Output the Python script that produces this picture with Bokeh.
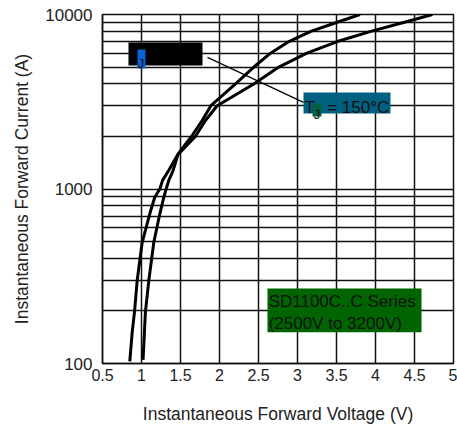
from bokeh.embed import file_html
from bokeh.models import BoxAnnotation, FixedTicker, Label
from bokeh.plotting import figure
from bokeh.resources import INLINE

# Forward characteristic, Tj = 25 degC
vf_25c = [1.02, 1.05, 1.094, 1.158, 1.235, 1.286, 1.31, 1.35, 1.405, 1.47,
          1.64, 1.778, 1.89, 2.205, 2.44, 2.654, 2.89, 3.17, 3.50, 3.80]
if_25c = [105, 197, 300, 495, 721, 897, 980, 1120, 1277, 1590,
          2000, 2470, 3000, 4000, 5000, 6000, 7000, 8000, 9000, 10000]

# Forward characteristic, Tj = 150 degC
vf_150c = [0.85, 0.88, 0.91, 0.945, 1.009, 1.106, 1.17, 1.235, 1.27, 1.35,
           1.46, 1.69, 1.82, 1.97, 2.44, 2.76, 3.12, 3.51, 3.94, 4.36, 4.73]
if_150c = [103, 150, 197, 300, 495, 721, 897, 1000, 1120, 1280,
           1560, 2000, 2470, 3000, 4000, 5000, 6000, 7000, 8000, 9000, 10000]

x_ticks = [0.5, 1, 1.5, 2, 2.5, 3, 3.5, 4, 4.5, 5]
y_major = [100, 1000, 10000]
y_minor = [200, 300, 400, 500, 600, 700, 800, 900,
           2000, 3000, 4000, 5000, 6000, 7000, 8000, 9000]

x_title = "Instantaneous Forward Voltage (V)"
y_title = "Instantaneous Forward Current (A)"
temp_note = "= 150°C"
series_line1 = "SD1100C..C Series"
series_line2 = "(2500V to 3200V)"

FONT = "Liberation Sans"
GRID = "#111111"
TEXT = "#222222"

p = figure(width=457, height=428, x_range=(0.5, 5), y_range=(100, 10000),
           y_axis_type="log", output_backend="svg", toolbar_location=None,
           min_border_left=102, min_border_right=4, min_border_top=14,
           min_border_bottom=65)
p.background_fill_color = "white"
p.border_fill_color = "white"
p.outline_line_color = GRID
p.outline_line_width = 1.5

# axes
p.xaxis.ticker = FixedTicker(ticks=x_ticks)
p.yaxis.ticker = FixedTicker(ticks=y_major, minor_ticks=y_minor)
p.xaxis.major_label_overrides = {t: ("%g" % t) for t in x_ticks}
p.yaxis.major_label_overrides = {t: str(t) for t in y_major}
for ax in (p.xaxis, p.yaxis):
    ax.major_tick_out = 0
    ax.major_tick_in = 0
    ax.minor_tick_out = 0
    ax.minor_tick_in = 0
    ax.axis_line_color = GRID
    ax.axis_line_width = 1.5
    ax.major_label_text_font = FONT
    ax.major_label_text_color = TEXT
    ax.axis_label_text_font = FONT
    ax.axis_label_text_font_style = "normal"
    ax.axis_label_text_font_size = "17.5px"
    ax.axis_label_text_color = TEXT
p.xaxis.major_label_text_font_size = "16px"
p.xaxis.major_label_standoff = 5
p.yaxis.major_label_text_font_size = "17px"
p.yaxis.major_label_standoff = 10
p.xaxis.axis_label = x_title
p.yaxis.axis_label = y_title
p.xaxis.axis_label_standoff = 20
p.yaxis.axis_label_standoff = 10

# grid
p.xgrid.grid_line_color = GRID
p.xgrid.grid_line_width = 1.5
p.ygrid.grid_line_color = GRID
p.ygrid.grid_line_width = 1.5
p.ygrid.minor_grid_line_color = GRID
p.ygrid.minor_grid_line_width = 1.5

# curves
p.line(vf_25c, if_25c, line_color="black", line_width=3, line_join="round")
p.line(vf_150c, if_150c, line_color="black", line_width=3, line_join="round")

# Tj callout: box, leader line, label
p.add_layout(BoxAnnotation(left=0.833, right=1.782, bottom=5104, top=6910,
                           fill_color="black", fill_alpha=1, line_alpha=0))
p.add_layout(BoxAnnotation(left=0.949, right=1.051, bottom=4903, top=6300,
                           fill_color="#0a64d8", fill_alpha=1, line_alpha=0))
p.add_layout(Label(x=0.993, y=5240, text="J", text_font=FONT,
                   text_font_size="13px", text_color="#111111",
                   text_align="center", text_baseline="alphabetic"))
p.segment(x0=[1.846], y0=[5680], x1=[3.077], y1=[3135],
          line_color="black", line_width=1.2)

p.add_layout(BoxAnnotation(left=3.077, right=4.192, bottom=2710, top=3573,
                           fill_color="#006080", fill_alpha=1, line_alpha=0))
p.add_layout(BoxAnnotation(left=3.192, right=3.307, bottom=2600, top=3090,
                           fill_color="#006040", fill_alpha=1, line_alpha=0))
p.add_layout(Label(x=3.09, y=2950, text="T", text_font=FONT,
                   text_font_size="17px", text_color="#111111",
                   text_baseline="alphabetic"))
p.add_layout(Label(x=3.25, y=2680, text="J", text_font=FONT,
                   text_font_size="13px", text_color="#111111",
                   text_align="center", text_baseline="alphabetic"))
p.add_layout(Label(x=3.38, y=2950, text=temp_note, text_font=FONT,
                   text_font_size="17px", text_color="#111111",
                   text_baseline="alphabetic"))

# series legend box
p.add_layout(BoxAnnotation(left=2.615, right=4.59, bottom=151, top=269,
                           fill_color="#006400", fill_alpha=1, line_alpha=0))
p.add_layout(Label(x=2.63, y=228, text=series_line1, text_font=FONT,
                   text_font_size="17px", text_color="#111111",
                   text_baseline="alphabetic"))
p.add_layout(Label(x=2.63, y=170, text=series_line2, text_font=FONT,
                   text_font_size="17px", text_color="#111111",
                   text_baseline="alphabetic"))

open("out.html", "w").write(file_html(p, INLINE))
